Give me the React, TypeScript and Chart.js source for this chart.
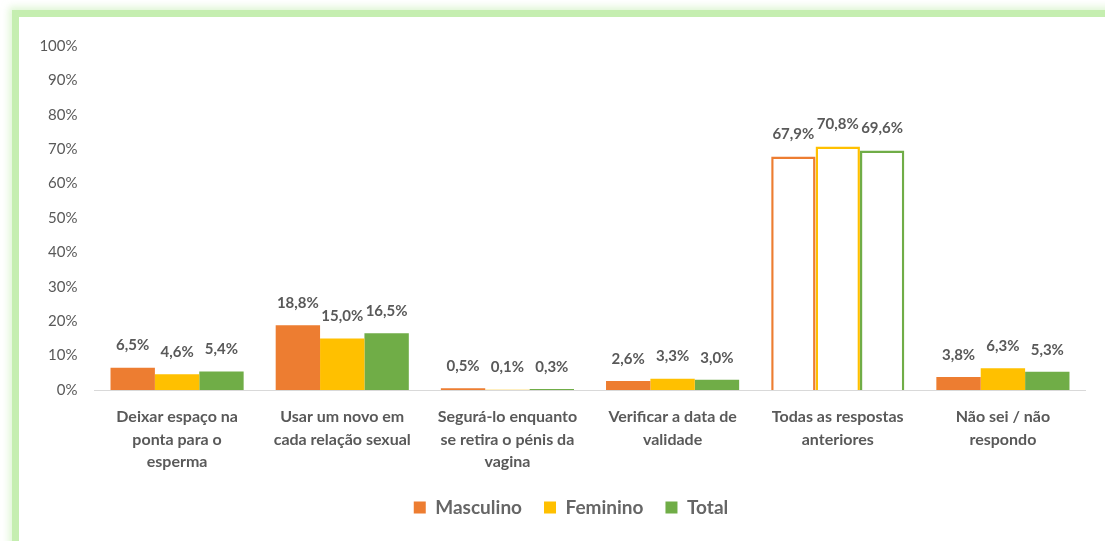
import React, { useEffect, useRef } from "react";
import { Chart, registerables } from "chart.js";

Chart.register(...registerables);

const categories: string[][] = [
  ["Deixar espaço na", "ponta para o", "esperma"],
  ["Usar um novo em", "cada relação sexual"],
  ["Segurá-lo enquanto", "se retira o pénis da", "vagina"],
  ["Verificar a data de", "validade"],
  ["Todas as respostas", "anteriores"],
  ["Não sei / não", "respondo"],
];
const masculino = [6.5, 18.8, 0.5, 2.6, 67.9, 3.8];
const feminino = [4.6, 15.0, 0.1, 3.3, 70.8, 6.3];
const total = [5.4, 16.5, 0.3, 3.0, 69.6, 5.3];
const seriesNames = ["Masculino", "Feminino", "Total"];
const seriesColors = ["#ED7D31", "#FFC000", "#70AD47"];
const outlinedIndex = 4;

const FONT = "Lato, 'Open Sans', sans-serif";
const TEXT = "#595959";
const LEGEND_CENTER_X = 571;

const dataLabels = {
  id: "dataLabels",
  afterDatasetsDraw(chart: any) {
    const ctx = chart.ctx;
    ctx.save();
    ctx.font = `bold 15px ${FONT}`;
    ctx.fillStyle = TEXT;
    ctx.textAlign = "center";
    ctx.textBaseline = "middle";
    chart.data.datasets.forEach((ds: any, di: number) => {
      const meta = chart.getDatasetMeta(di);
      meta.data.forEach((el: any, i: number) => {
        const v = ds.data[i] as number;
        const txt = v.toFixed(1).replace(".", ",") + "%";
        ctx.fillText(txt, el.x, el.y - 22);
      });
    });
    ctx.restore();
  },
};

const legendShift = {
  id: "legendShift",
  afterLayout(chart: any) {
    const lg = chart.legend;
    if (!lg) return;
    const shift = LEGEND_CENTER_X - (lg.left + lg.right) / 2;
    lg.left += shift;
    lg.right += shift;
  },
};

export default function App() {
  const ref = useRef<HTMLCanvasElement>(null);
  useEffect(() => {
    if (!ref.current) return;
    const values = [masculino, feminino, total];
    const chart = new Chart(ref.current, {
      type: "bar",
      data: {
        labels: categories,
        datasets: values.map((vals, k) => ({
          label: seriesNames[k],
          data: vals,
          backgroundColor: vals.map((_, i) => (i === outlinedIndex ? "#ffffff" : seriesColors[k])),
          borderColor: seriesColors[k],
          borderWidth: vals.map((_, i) => (i === outlinedIndex ? 2.5 : 0)),
          barPercentage: 1,
          categoryPercentage: 0.806,
        })),
      },
      options: {
        animation: false,
        responsive: true,
        maintainAspectRatio: false,
        layout: { padding: { top: 46, right: 19.5, bottom: 14, left: 0 } },
        plugins: {
          legend: {
            position: "bottom",
            labels: {
              boxWidth: 12,
              boxHeight: 12,
              padding: 22,
              color: "#666666",
              font: { family: FONT, size: 19, weight: "bold" },
              generateLabels: () =>
                seriesNames.map((n, k) => ({
                  text: n,
                  fillStyle: seriesColors[k],
                  strokeStyle: seriesColors[k],
                  lineWidth: 0,
                  hidden: false,
                  datasetIndex: k,
                  fontColor: "#666666",
                })),
            },
          },
          tooltip: { enabled: false },
        },
        scales: {
          x: {
            grid: { display: false, drawTicks: false },
            border: { display: true, color: "#d9d9d9", width: 1 },
            ticks: {
              color: TEXT,
              padding: 16,
              maxRotation: 0,
              autoSkip: false,
              font: { family: FONT, size: 16, weight: "bold", lineHeight: 1.4 },
            },
            afterFit: (s: any) => {
              s.height = 86;
            },
          },
          y: {
            min: 0,
            max: 100,
            grid: { display: false, drawTicks: false },
            border: { display: false },
            ticks: {
              stepSize: 10,
              color: TEXT,
              padding: 17,
              font: { family: FONT, size: 15 },
              callback: (v: any) => v + "%",
            },
            afterFit: (s: any) => {
              s.width = 94.5;
            },
          },
        },
      },
      plugins: [dataLabels, legendShift],
    } as any);
    return () => chart.destroy();
  }, []);

  return (
    <div
      style={{
        position: "fixed",
        left: 0,
        top: 0,
        width: 1105,
        height: 541,
        background: "#ffffff",
        overflow: "hidden",
      }}
    >
      <div
        style={{
          position: "absolute",
          left: 19,
          top: 17,
          width: 1300,
          height: 800,
          background: "#ffffff",
          boxShadow: "0 0 0 7px #c5eeb0, 0 0 7px 10px rgba(197,238,176,0.55)",
        }}
      />
      <div style={{ position: "absolute", left: 0, top: 0, width: 1105, height: 541 }}>
        <canvas ref={ref} />
      </div>
    </div>
  );
}
